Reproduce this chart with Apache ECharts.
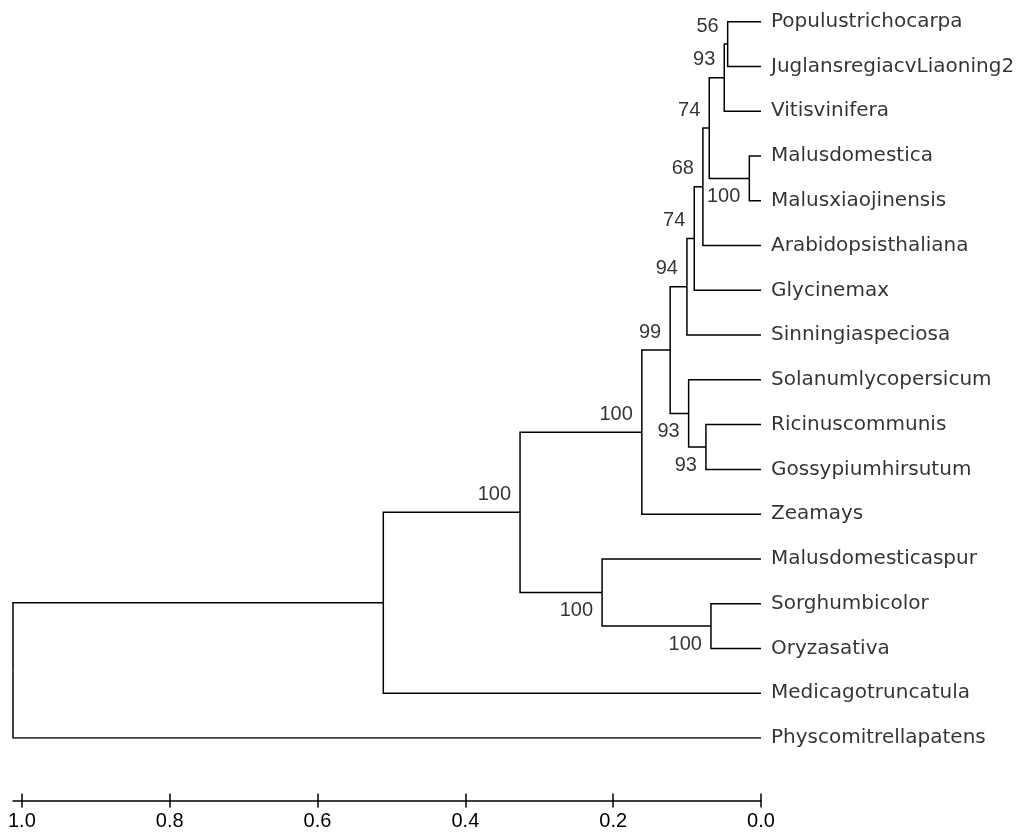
<!DOCTYPE html>
<html><head><meta charset="utf-8">
<script src="https://cdn.jsdelivr.net/npm/echarts@6/dist/echarts.min.js"></script>
<style>html,body{margin:0;padding:0;background:#fff}#c{width:1032px;height:834px}</style>
</head><body><div id="c"></div>
<script>
// ---- data ----
const leafNames = ["Populustrichocarpa","JuglansregiacvLiaoning2","Vitisvinifera","Malusdomestica","Malusxiaojinensis","Arabidopsisthaliana","Glycinemax","Sinningiaspeciosa","Solanumlycopersicum","Ricinuscommunis","Gossypiumhirsutum","Zeamays","Malusdomesticaspur","Sorghumbicolor","Oryzasativa","Medicagotruncatula","Physcomitrellapatens"];
// internal nodes: children ids (L = leaf index, N = internal node index)
const nodeChildren = [
  ["L0","L1"],["N0","L2"],["L3","L4"],["N1","N2"],["N3","L5"],["N4","L6"],["N5","L7"],
  ["L9","L10"],["L8","N7"],["N6","N8"],["N9","L11"],["L13","L14"],["L12","N11"],
  ["N10","N12"],["N13","L15"],["N14","L16"]
];
const nodeHeights = [0.0451,0.0497,0.0158,0.070,0.0786,0.0903,0.1002,0.0745,0.0979,0.1229,0.1612,0.0677,0.215,0.326,0.511,1.012];
const bootstrap = [56,93,100,74,68,74,94,93,93,99,100,100,100,100,null,null];
const scaleTicks = [0,0.2,0.4,0.6,0.8,1.0];

// ---- layout from tree ----
const ROOT_H = Math.max.apply(null, nodeHeights);
const cache = {};
function pos(id){
  if (cache[id]) return cache[id];
  const k = +id.slice(1);
  let p;
  if (id[0] === 'L') p = {x: 0, y: k};
  else {
    const ch = nodeChildren[k].map(pos);
    p = {x: nodeHeights[k], y: ch.reduce((s,c)=>s+c.y,0)/ch.length};
  }
  cache[id] = p; return p;
}
const edges = [];
const bsLabels = [];
nodeChildren.forEach((ch, i) => {
  const p = pos('N'+i);
  ch.forEach((cid, j) => {
    const c = pos(cid);
    edges.push({coords: [[p.x, p.y],[p.x, c.y],[c.x, c.y]]});
    if (cid[0] === 'N') {
      const ci = +cid.slice(1);
      if (bootstrap[ci] != null) {
        bsLabels.push({name: String(bootstrap[ci]), value: [c.x, c.y],
          label: {offset: [0, j === 0 ? -18 : 18]}});
      }
    }
  });
});
const leafData = leafNames.map((n, i) => ({name: n, value: [0, i]}));

const LEFT = 13, RIGHT = 1032 - 761;
const chart = echarts.init(document.getElementById('c'), null, {renderer: 'canvas'});
chart.setOption({
  backgroundColor: '#fff',
  animation: false,
  grid: [
    {left: LEFT, right: RIGHT, top: 21.7, height: 716.3},
    {left: LEFT, right: RIGHT, top: 800.5, height: 0}
  ],
  xAxis: [
    {gridIndex: 0, type: 'value', min: 0, max: ROOT_H, inverse: true, show: false},
    {gridIndex: 1, type: 'value', min: 0, max: ROOT_H, inverse: true, position: 'bottom',
      axisLine: {show: true, lineStyle: {color: '#000', width: 1.5}},
      axisTick: {show: true, length: 7, customValues: scaleTicks, lineStyle: {color: '#000', width: 1.5}},
      axisLabel: {show: true, customValues: scaleTicks, formatter: v => v.toFixed(1), margin: 11,
        color: '#000', fontSize: 20, fontFamily: 'Liberation Sans'},
      splitLine: {show: false}},
    {gridIndex: 1, type: 'value', min: 0, max: ROOT_H, inverse: true, position: 'top',
      axisLine: {show: false},
      axisTick: {show: true, length: 7, customValues: scaleTicks, lineStyle: {color: '#000', width: 1.5}},
      axisLabel: {show: false}, splitLine: {show: false}}
  ],
  yAxis: [
    {gridIndex: 0, type: 'value', min: 0, max: leafNames.length - 1, inverse: true, show: false},
    {gridIndex: 1, type: 'value', min: 0, max: 1, show: false}
  ],
  series: [
    {type: 'lines', coordinateSystem: 'cartesian2d', xAxisIndex: 0, yAxisIndex: 0, polyline: true,
      silent: true, lineStyle: {color: '#000', width: 1.5, opacity: 1}, data: edges},
    {type: 'scatter', xAxisIndex: 0, yAxisIndex: 0, symbolSize: 0, silent: true, data: leafData,
      label: {show: true, position: 'right', distance: 10, formatter: '{b}', color: '#000',
        fontSize: 20, fontFamily: 'DejaVu Sans'}},
    {type: 'scatter', xAxisIndex: 0, yAxisIndex: 0, symbolSize: 0, silent: true, data: bsLabels,
      label: {show: true, position: 'left', distance: 9, formatter: '{b}', color: '#000',
        fontSize: 20, fontFamily: 'Liberation Sans'}}
  ]
});
</script></body></html>
